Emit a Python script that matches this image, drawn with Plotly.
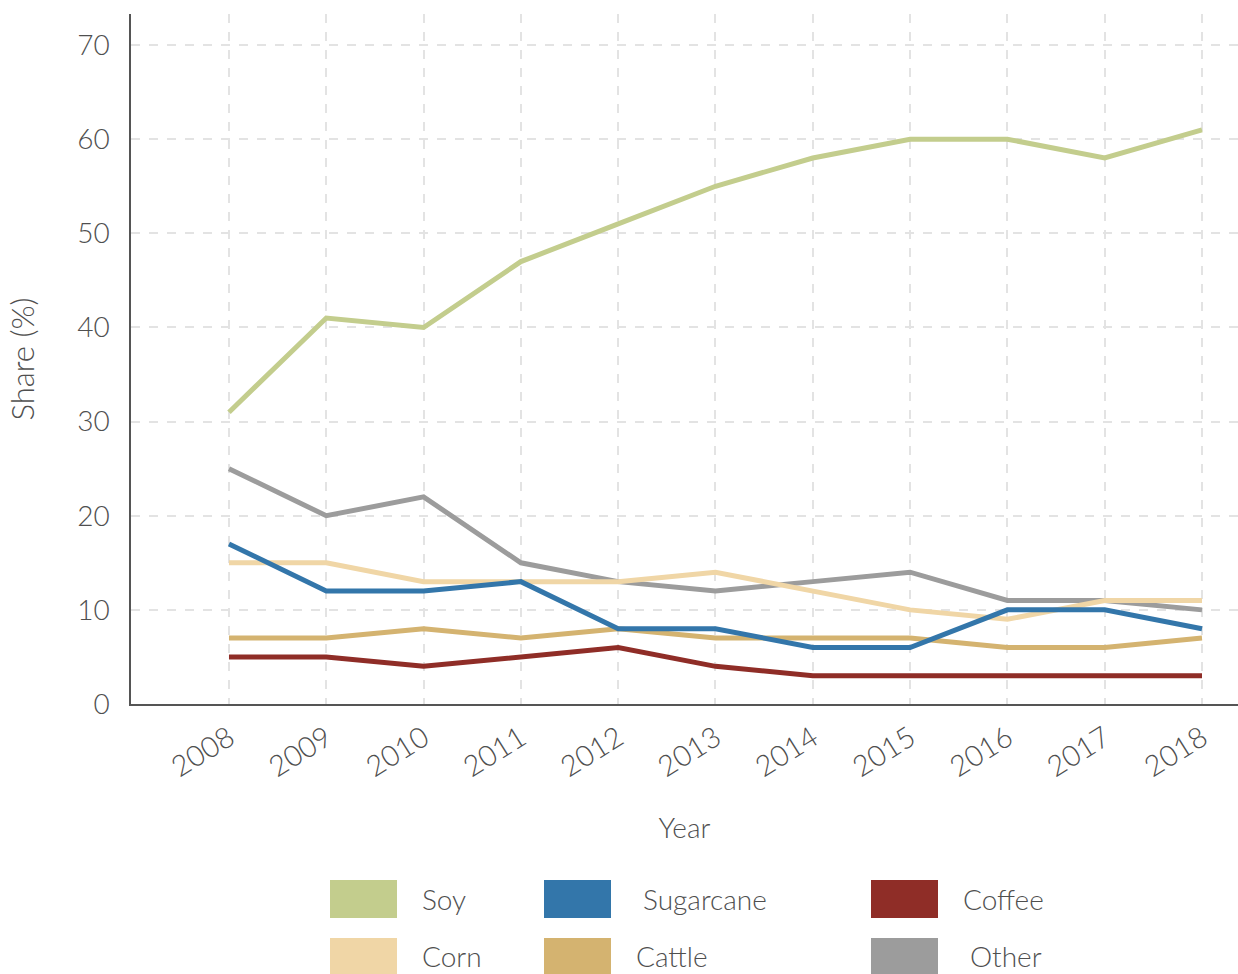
import plotly.graph_objects as go

years = [2008, 2009, 2010, 2011, 2012, 2013, 2014, 2015, 2016, 2017, 2018]
soy = [31, 41, 40, 47, 51, 55, 58, 60, 60, 58, 61]
sugarcane = [17, 12, 12, 13, 8, 8, 6, 6, 10, 10, 8]
coffee = [5, 5, 4, 5, 6, 4, 3, 3, 3, 3, 3]
corn = [15, 15, 13, 13, 13, 14, 12, 10, 9, 11, 11]
cattle = [7, 7, 8, 7, 8, 7, 7, 7, 6, 6, 7]
other = [25, 20, 22, 15, 13, 12, 13, 14, 11, 11, 10]

series_names = ["Soy", "Sugarcane", "Coffee", "Corn", "Cattle", "Other"]
series_values = [soy, sugarcane, coffee, corn, cattle, other]
series_colors = ["#c3cd8d", "#3376aa", "#8f2d27", "#f0d6a6", "#d4b370", "#9c9c9c"]

# draw order (back to front)
draw_order = ["Soy", "Other", "Corn", "Cattle", "Coffee", "Sugarcane"]

TXT = "#4f4f4f"
FONT = "Lato"
WT = 300

fig = go.Figure()
for name in draw_order:
    i = series_names.index(name)
    fig.add_trace(go.Scatter(
        x=years, y=series_values[i], mode="lines", name=name,
        line=dict(color=series_colors[i], width=5),
        showlegend=False,
    ))

W, H = 1238, 974
L, R, T, B = 131, 0, 14, 270
pw, ph = W - L - R, H - T - B

def px2paper_x(px):
    return (px - L) / pw

def px2paper_y(py):
    return (H - B - py) / ph

# custom legend: 2 rows x 3 columns of large swatches
swatch_x = [330, 544, 871]
text_x = [420, 641, 961, 420, 634, 968]
row_y = [(880, 918), (938, 974)]
shapes = []
annotations = []
for i, name in enumerate(series_names):
    col, row = i % 3, i // 3
    x0 = swatch_x[col]
    y0, y1 = row_y[row]
    shapes.append(dict(
        type="rect", xref="paper", yref="paper",
        x0=px2paper_x(x0), x1=px2paper_x(x0 + 67),
        y0=px2paper_y(y1), y1=px2paper_y(y0),
        fillcolor=series_colors[i], line=dict(width=0), layer="above",
    ))
    annotations.append(dict(
        xref="paper", yref="paper", x=px2paper_x(text_x[i]),
        y=px2paper_y((y0 + y1) / 2), xanchor="left", yanchor="middle",
        text=name, showarrow=False,
        font=dict(family=FONT, size=28, color=TXT, weight=WT),
    ))

fig.update_layout(
    width=W, height=H,
    margin=dict(l=L, r=R, t=T, b=B, pad=0),
    paper_bgcolor="white", plot_bgcolor="white",
    font=dict(family=FONT, color=TXT, size=26, weight=WT),
    showlegend=False,
    shapes=shapes, annotations=annotations,
    xaxis=dict(
        range=[2006.993, 2018.37], tickvals=years, ticktext=[str(y) for y in years],
        tickangle=-32, tickfont=dict(size=29, color=TXT, weight=WT),
        showgrid=True, gridcolor="#e3e3e3", griddash="dash", gridwidth=1.5,
        showline=True, linecolor="#555555", linewidth=1.5,
        ticks="", zeroline=False, ticklabelstandoff=4,
        title=dict(text="Year", font=dict(size=28, color=TXT, weight=WT), standoff=36),
    ),
    yaxis=dict(
        range=[0, 73.3], tickvals=[0, 10, 20, 30, 40, 50, 60, 70],
        tickfont=dict(size=28, color=TXT, weight=WT),
        showgrid=True, gridcolor="#e3e3e3", griddash="dash", gridwidth=1.5,
        showline=True, linecolor="#555555", linewidth=1.5,
        ticks="", zeroline=False, ticklabelstandoff=14,
        title=dict(text="Share (%)", font=dict(size=31, color=TXT, weight=WT), standoff=33),
    ),
)

fig.write_html("out.html")
